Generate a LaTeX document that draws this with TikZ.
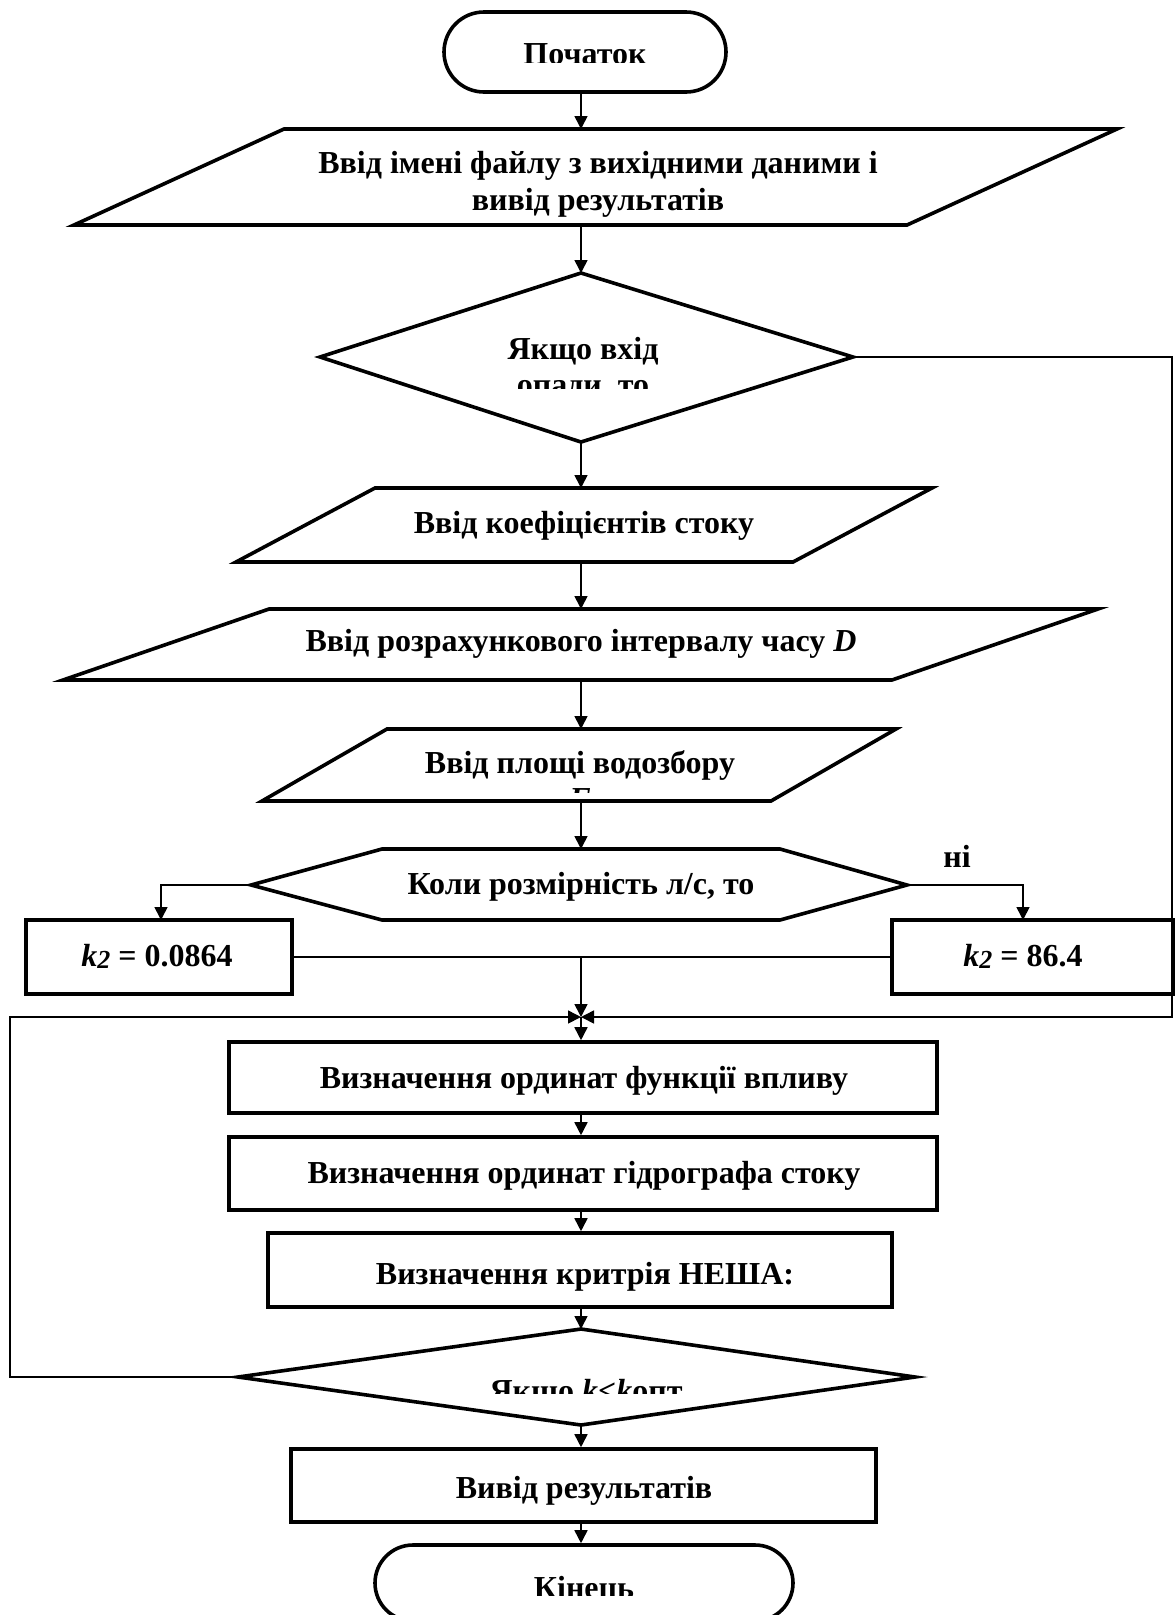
\documentclass[tikz,border=0pt]{standalone}
\usepackage{fontspec}
\setmainfont{Liberation Serif}
\usetikzlibrary{arrows.meta,shapes.misc}
\begin{document}
\begin{tikzpicture}[x=1pt,y=-1pt,
  shp/.style={draw,line width=3.6pt,line join=miter},
  txt/.style={font=\fontsize{32}{37}\selectfont\bfseries,inner sep=0pt,anchor=base},
  con/.style={line width=1.6pt},
  arr/.style={con,-{Triangle[length=13pt,width=13pt]}},
  rbox/.style={shp,rectangle,inner sep=0pt},
  term/.style={shp,rounded rectangle,inner sep=0pt}]
\clip (0,0) rectangle (1175,1615);
\fill[white] (0,0) rectangle (1175,1615);
\coordinate (ax) at (581,0);
\coordinate (rx) at (1172,0);
\coordinate (lx) at (10,0);

% start
\node[term,minimum width=282pt,minimum height=80pt] (start) at (585,52) {};
\begin{scope}\clip (0,0) rectangle (1175,62);
\node[txt] (startT) at (585,64) {Початок};
\end{scope}

% input 1
\coordinate (p1a) at (284,129); \coordinate (p1b) at (1117,129);
\coordinate (p1c) at (907,225); \coordinate (p1d) at (74,225);
\draw[shp] (p1a)--(p1b)--(p1c)--(p1d)--cycle;
\node[txt] (p1T1) at (598,173) {Ввід імені файлу з вихідними даними і};
\node[txt] (p1T2) at (598,210) {вивід результатів};

% decision 1
\coordinate (d1t) at (581,273); \coordinate (d1r) at (853,357);
\coordinate (d1b) at (581,442); \coordinate (d1l) at (320,357);
\draw[shp] (d1t)--(d1r)--(d1b)--(d1l)--cycle;
\node[txt] (d1T1) at (583,359) {Якщо вхід};
\begin{scope}\clip (0,0) rectangle (1175,388);
\node[txt] (d1T2) at (583,395) {опади, то};
\end{scope}

% input 2
\coordinate (p2a) at (375,488); \coordinate (p2b) at (932,488);
\coordinate (p2c) at (793,562); \coordinate (p2d) at (236,562);
\draw[shp] (p2a)--(p2b)--(p2c)--(p2d)--cycle;
\node[txt] (p2T) at (584,533) {Ввід коефіцієнтів стоку};

% input 3
\coordinate (p3a) at (269,609); \coordinate (p3b) at (1098,609);
\coordinate (p3c) at (892,680); \coordinate (p3d) at (63,680);
\draw[shp] (p3a)--(p3b)--(p3c)--(p3d)--cycle;
\node[txt] (p3T) at (581,651) {Ввід розрахункового інтервалу часу \textit{D}};

% input 4
\coordinate (p4a) at (387,729); \coordinate (p4b) at (896,729);
\coordinate (p4c) at (771,801); \coordinate (p4d) at (262,801);
\draw[shp] (p4a)--(p4b)--(p4c)--(p4d)--cycle;
\node[txt] (p4T1) at (580,773) {Ввід площі водозбору};
\begin{scope}\clip (0,0) rectangle (1175,792);
\node[txt] (p4T2) at (580,809) {\textit{F}};
\end{scope}

% hexagon decision
\coordinate (h1) at (382,849); \coordinate (h2) at (780,849);
\coordinate (h3) at (907,885); \coordinate (h4) at (780,920);
\coordinate (h5) at (382,920); \coordinate (h6) at (251,885);
\draw[shp] (h1)--(h2)--(h3)--(h4)--(h5)--(h6)--cycle;
\node[txt] (hT) at (581,894) {Коли розмірність л/с, то};
\node[txt] (no) at (957,867) {ні};

% k2 boxes
\node[rbox,minimum width=266pt,minimum height=74pt] (kL) at (159,957) {};
\node[rbox,minimum width=281pt,minimum height=74pt] (kR) at (1032.5,957) {};
\node[txt] (kLT) at (157,966) {\textit{k}\raisebox{-2pt}{\fontsize{26}{30}\selectfont\textit{2}} = 0.0864};
\node[txt] (kRT) at (1023,966) {\textit{k}\raisebox{-2pt}{\fontsize{26}{30}\selectfont\textit{2}} = 86.4};
\coordinate (kLin) at (161,920);
\coordinate (kRin) at (1023,920);

% process boxes
\node[rbox,minimum width=708pt,minimum height=71pt] (b5) at (583,1077.5) {};
\node[txt] (b5T) at (584,1088) {Визначення ординат функції впливу};
\node[rbox,minimum width=708pt,minimum height=73pt] (b6) at (583,1173.5) {};
\node[txt] (b6T) at (584,1183) {Визначення ординат гідрографа стоку};
\node[rbox,minimum width=624pt,minimum height=74pt] (b7) at (580,1270) {};
\node[txt] (b7T) at (585,1284) {Визначення критрія НЕША:};

% decision 2
\coordinate (d2t) at (581,1329); \coordinate (d2r) at (915,1377);
\coordinate (d2b) at (581,1425); \coordinate (d2l) at (238,1377);
\draw[shp] (d2t)--(d2r)--(d2b)--(d2l)--cycle;
\begin{scope}\clip (0,0) rectangle (1175,1393);
\node[txt] (d2T) at (586,1401) {Якщо \textit{k}<\textit{k}опт};
\end{scope}

% output
\node[rbox,minimum width=585pt,minimum height=73pt] (b8) at (583.5,1485.5) {};
\node[txt] (b8T) at (584,1498) {Вивід результатів};

% end
\node[term,minimum width=418pt,minimum height=76pt] (end) at (584,1583) {};
\begin{scope}\clip (0,0) rectangle (1175,1595);
\node[txt] (endT) at (584,1598) {Кінець};
\end{scope}

\coordinate (j) at (581,1017);

% connectors
\draw[arr] (ax |- start.south) -- (ax |- p1a);
\draw[arr] (ax |- p1d) -- (d1t);
\draw[arr] (d1b) -- (ax |- p2a);
\draw[arr] (ax |- p2d) -- (ax |- p3a);
\draw[arr] (ax |- p3d) -- (ax |- p4a);
\draw[arr] (ax |- p4d) -- (ax |- h1);
\draw[arr] (h6) -- (h6 -| kLin) -- (kLin);
\draw[arr] (h3) -- (h3 -| kRin) -- (kRin);
\draw[con] (kL.east) -- (kR.west);
\draw[arr] (kL.east -| j) -- (j);
\draw[arr] (d1r) -- (d1r -| rx) -- (rx |- j) -- (j);
\draw[arr] (d2l) -- (d2l -| lx) -- (lx |- j) -- (j);
\draw[arr] (j) -- (j |- b5.north);
\draw[arr] (ax |- b5.south) -- (ax |- b6.north);
\draw[arr] (ax |- b6.south) -- (ax |- b7.north);
\draw[arr] (ax |- b7.south) -- (d2t);
\draw[arr] (d2b) -- (ax |- b8.north);
\draw[arr] (ax |- b8.south) -- (ax |- end.north);
\end{tikzpicture}
\end{document}
